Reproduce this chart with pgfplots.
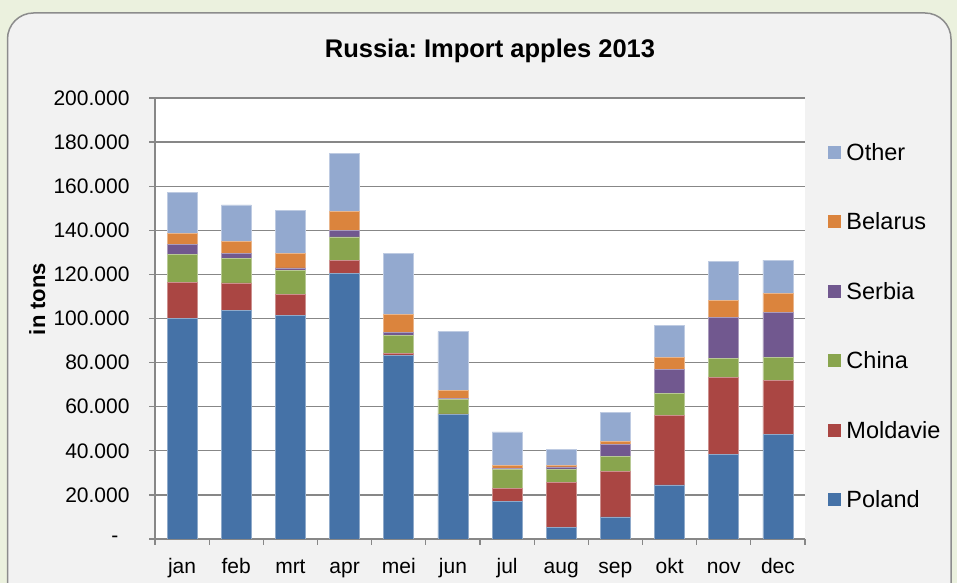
\documentclass[border=0pt]{standalone}
\usepackage{pgfplots}
\usepackage{pgfplotstable}
\pgfplotsset{compat=1.18}
\usepackage{fontspec}
\setmainfont{Liberation Sans}
\frenchspacing
\definecolor{cPol}{HTML}{4572A7}
\definecolor{cMol}{HTML}{AA4643}
\definecolor{cChi}{HTML}{89A54E}
\definecolor{cSer}{HTML}{71588F}
\definecolor{cBel}{HTML}{DB843D}
\definecolor{cOth}{HTML}{93A9CF}
\definecolor{bgGreen}{HTML}{EBF1DE}
\definecolor{panelGray}{HTML}{F2F2F2}
\definecolor{panelEdge}{HTML}{8C8C8C}
\definecolor{gridGray}{HTML}{878787}
\pgfplotstableread{
m Poland Moldavie China Serbia Belarus Other
0 100100 16100 12900 4400 5000 18700
1 103700 12400 11300 2000 5400 16700
2 101300 9500 11100 1000 6800 19500
3 120500 5700 10800 3100 8300 26500
4 83300 700 8500 1100 8100 27900
5 56400 300 6600 300 3700 26700
6 17100 5700 8800 300 1300 15400
7 5300 20400 5900 1100 500 7300
8 10000 20700 6900 5200 1500 13000
9 24500 31400 10200 10900 5200 14700
10 38200 35100 8500 18700 7600 17800
11 47500 24300 10600 20400 8600 15100
}\datatable
\begin{document}
\begin{tikzpicture}[x=1bp,y=1bp]
\path[use as bounding box, fill=bgGreen] (0,0) rectangle (957,583);
\begin{scope}
\clip (0,0) rectangle (957,583);
\draw[draw=panelEdge, line width=1.5bp, fill=panelGray, rounded corners=26bp] (7.5,-40) rectangle (951,570);
\end{scope}
\node[anchor=base, font=\fontsize{25.5bp}{30bp}\selectfont\bfseries] at (490,525) {Russia: Import apples 2013};
\node[rotate=90, anchor=base, font=\fontsize{22bp}{26bp}\selectfont\bfseries] at (45,284) {in tons};
\begin{axis}[
  at={(155bp,44bp)}, anchor=south west,
  scale only axis, width=650bp, height=441bp,
  ybar stacked, bar width=30bp,
  xmin=-0.5, xmax=11.5, ymin=0, ymax=200000,
  xtick={0,...,11},
  xticklabels={jan,feb,mrt,apr,mei,jun,jul,aug,sep,okt,nov,dec},
  minor xtick={-0.5,0.5,...,11.5},
  ytick={0,20000,...,200000},
  yticklabels={{-\hspace*{11bp}},20.000,40.000,60.000,80.000,100.000,120.000,140.000,160.000,180.000,200.000},
  scaled y ticks=false,
  ymajorgrids,
  grid style={color=gridGray, line width=1.3bp},
  axis x line*=bottom, axis y line*=left,
  axis line style={color=gridGray, line width=1.3bp, -},
  tick align=outside,
  major x tick style={draw=none},
  tick style={color=gridGray, line width=1.3bp},
  major tick length=6bp, minor tick length=6bp,
  axis background/.style={fill=white},
  ticklabel style={font=\fontsize{21bp}{25bp}\selectfont},
  xticklabel style={anchor=base, yshift=-29bp},
  yticklabel style={anchor=east, xshift=-16bp},
  every axis plot/.append style={line width=0.6bp},
  legend style={draw=none, fill=none, at={(axis description cs:1,1)}, anchor=north west,
    xshift=20bp, yshift=-41bp, row sep=47bp,
    font=\fontsize{23.5bp}{28bp}\selectfont},
  legend cell align=left,
  reverse legend,
  legend image code/.code={\fill[#1, draw=none] (0bp,-6.5bp) rectangle (13bp,6.5bp); \path (16bp,0bp);},
]
\addplot[fill=cPol, draw=cPol!60!white] table[x=m, y=Poland] {\datatable};
\addlegendentry{Poland}
\addplot[fill=cMol, draw=cMol!60!white] table[x=m, y=Moldavie] {\datatable};
\addlegendentry{Moldavie}
\addplot[fill=cChi, draw=cChi!60!white] table[x=m, y=China] {\datatable};
\addlegendentry{China}
\addplot[fill=cSer, draw=cSer!60!white] table[x=m, y=Serbia] {\datatable};
\addlegendentry{Serbia}
\addplot[fill=cBel, draw=cBel!60!white] table[x=m, y=Belarus] {\datatable};
\addlegendentry{Belarus}
\addplot[fill=cOth, draw=cOth!60!white] table[x=m, y=Other] {\datatable};
\addlegendentry{Other}
\end{axis}
\end{tikzpicture}
\end{document}
